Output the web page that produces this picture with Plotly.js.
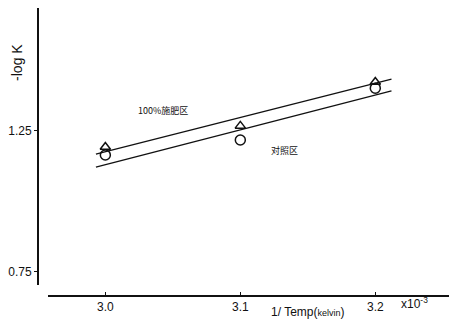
<!DOCTYPE html>
<html>
<head>
<meta charset="utf-8">
<script src="https://cdn.plot.ly/plotly-3.0.1.min.js"></script>
<style>html,body{margin:0;padding:0;background:#fff;}#chart{width:449px;height:322px;}</style>
</head>
<body>
<div id="chart"></div>
<script>
// Data
const tempX = [3.0, 3.1, 3.2];                 // 1/Temp (x10^-3)
const fertilized = [1.193, 1.268, 1.424];      // triangles (100%施肥区)
const control = [1.165, 1.218, 1.402];         // circles (对照区)
const fitX = [2.993, 3.212];
const fitFertilized = [1.168, 1.434];
const fitControl = [1.122, 1.392];
const xTickVals = [3.0, 3.1, 3.2];
const xTickText = ['3.0', '3.1', '3.2'];
const yTickVals = [0.75, 1.25];
const yTickText = ['0.75', '1.25'];
const labelFert = '100%施肥区';
const labelCtrl = '对照区';

const black = '#111';
const traces = [
  {x: fitX, y: fitFertilized, mode: 'lines', line: {color: black, width: 1.3}, hoverinfo: 'skip'},
  {x: fitX, y: fitControl, mode: 'lines', line: {color: black, width: 1.3}, hoverinfo: 'skip'},
  {x: tempX, y: fertilized, mode: 'markers',
   marker: {symbol: 'triangle-up-open', size: 9, color: black, line: {width: 1.5, color: black}}},
  {x: tempX, y: control, mode: 'markers',
   marker: {symbol: 'circle-open', size: 10, color: black, line: {width: 1.5, color: black}}}
];

const layout = {
  width: 449, height: 322,
  margin: {l: 37, r: 0, t: 8, b: 27},
  paper_bgcolor: '#fff', plot_bgcolor: '#fff',
  showlegend: false,
  font: {family: 'Liberation Sans, Arial, sans-serif', size: 12, color: black},
  xaxis: {
    domain: [0.027, 1], anchor: 'free', position: 0,
    range: [2.9576, 3.2546],
    tickvals: xTickVals, ticktext: xTickText,
    ticks: 'inside', ticklen: 3, tickcolor: black,
    showline: true, linecolor: black, linewidth: 1.5,
    showgrid: false, zeroline: false,
    tickfont: {size: 12, color: black}
  },
  yaxis: {
    domain: [0.035, 1], anchor: 'free', position: 0,
    range: [0.7039, 1.6862],
    tickvals: yTickVals, ticktext: yTickText,
    ticks: 'outside', ticklen: 3, tickcolor: black,
    showline: true, linecolor: black, linewidth: 1.5,
    showgrid: false, zeroline: false,
    tickfont: {size: 12, color: black}
  },
  annotations: [
    {xref: 'paper', yref: 'paper', x: -0.05, y: 0.81, text: '-log K', textangle: -90,
     showarrow: false, font: {size: 14, color: black}, xanchor: 'center', yanchor: 'middle'},
    {xref: 'x', yref: 'paper', x: 3.15, y: -0.058,
     text: '1/ Temp(<span style="font-size:9px">kelvin</span>)',
     showarrow: false, font: {size: 12, color: black}, xanchor: 'center', yanchor: 'middle'},
    {xref: 'x', yref: 'paper', x: 3.229, y: -0.028,
     text: 'x10<sup>-3</sup>', showarrow: false, font: {size: 12, color: black},
     xanchor: 'center', yanchor: 'middle'},
    {xref: 'x', yref: 'y', x: 3.043, y: 1.322, text: labelFert, showarrow: false,
     font: {family: 'Noto Sans CJK SC', size: 9, color: black}, xanchor: 'center', yanchor: 'middle'},
    {xref: 'x', yref: 'y', x: 3.133, y: 1.180, text: labelCtrl, showarrow: false,
     font: {family: 'Noto Sans CJK SC', size: 9, color: black}, xanchor: 'center', yanchor: 'middle'}
  ]
};

Plotly.newPlot('chart', traces, layout, {displayModeBar: false, staticPlot: true});
</script>
</body>
</html>
